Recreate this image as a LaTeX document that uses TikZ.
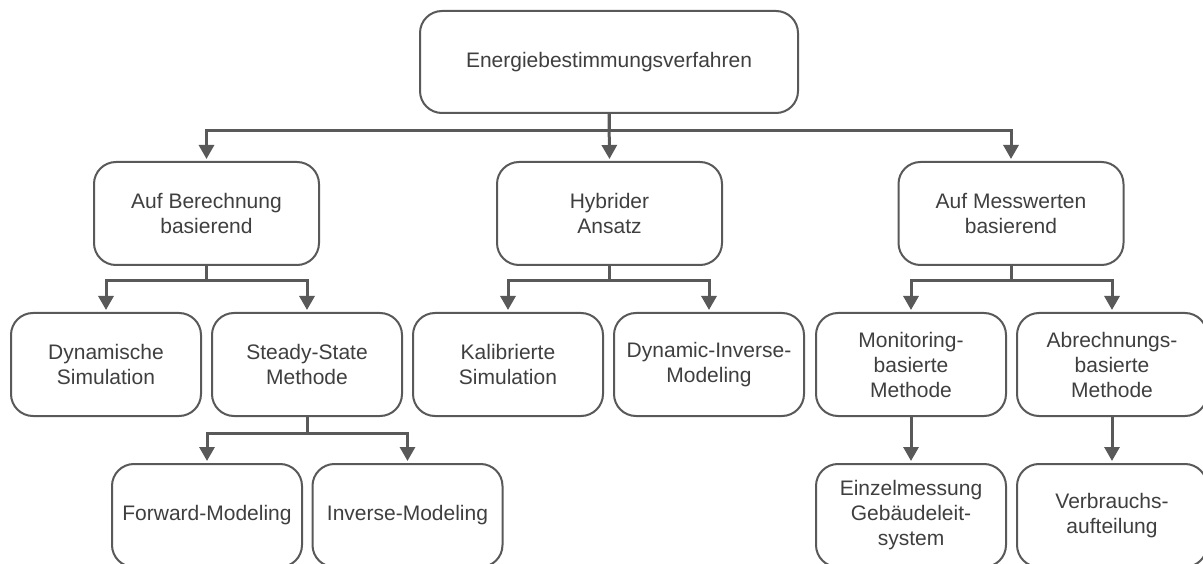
\documentclass[tikz,border=0pt]{standalone}
\usepackage{fontspec}
\setmainfont{Liberation Sans}
\usetikzlibrary{arrows.meta}
\definecolor{linegray}{HTML}{595959}
\definecolor{textgray}{HTML}{3F3F3F}
\begin{document}
\begin{tikzpicture}[x=1pt,y=-1pt,
  box/.style={draw=linegray, line width=2pt, rounded corners=22pt, fill=white,
    text=textgray, align=center, minimum width=190pt, minimum height=103pt,
    inner sep=0pt, font=\fontsize{21}{25}\selectfont},
  wide/.style={minimum width=225pt},
  conn/.style={draw=linegray, line width=3pt,
    -{Triangle[width=15pt,length=14pt]}, shorten >=2pt}]
\useasboundingbox (0,0) rectangle (1203,564);

% root
\node[box, minimum width=378pt, minimum height=102pt] (root) at (609,62) {Energiebestimmungsverfahren};

% second level
\node[box, wide] (calc) at (206.5,213.5) {Auf Berechnung\\basierend};
\node[box, wide] (hyb)  at (609.5,213.5) {Hybrider\\Ansatz};
\node[box, wide] (meas) at (1011,213.5) {Auf Messwerten\\basierend};

% third level
\node[box] (dyn)  at (106,364.5)  {Dynamische\\Simulation};
\node[box] (ss)   at (307,364.5)  {Steady-State\\Methode};
\node[box] (kal)  at (508,364.5)  {Kalibrierte\\Simulation};
\node[box] (dinv) at (709,364.5)  {Dynamic-Inverse-\\Modeling};
\node[box] (mon)  at (911,364.5)  {Monitoring-\\basierte\\Methode};
\node[box] (abr)  at (1112,364.5) {Abrechnungs-\\basierte\\Methode};

% fourth level
\node[box] (fwd)  at (207,515.5)  {Forward-Modeling};
\node[box] (inv)  at (407.5,515.5) {Inverse-Modeling};
\node[box] (ein)  at (911,515.5)  {Einzelmessung\\Gebäudeleit-\\system};
\node[box] (verb) at (1112,515.5) {Verbrauchs-\\aufteilung};

% junction points
\coordinate (j0) at (609,131);
\coordinate (j1) at (206.5,281);
\coordinate (j2) at (609.5,281);
\coordinate (j3) at (1011,281);
\coordinate (j4) at (307,433);

% connectors
\draw[conn] (root.south) -- (j0) -| (calc.north);
\draw[conn] (root.south) -- (hyb.north);
\draw[conn] (j0) -| (meas.north);

\draw[conn] (calc.south) -- (j1) -| (dyn.north);
\draw[conn] (j1) -| (ss.north);

\draw[conn] (hyb.south) -- (j2) -| (kal.north);
\draw[conn] (j2) -| (dinv.north);

\draw[conn] (meas.south) -- (j3) -| (mon.north);
\draw[conn] (j3) -| (abr.north);

\draw[conn] (ss.south) -- (j4) -| (fwd.north);
\draw[conn] (j4) -| (inv.north);

\draw[conn] (mon.south) -- (ein.north);
\draw[conn] (abr.south) -- (verb.north);
\end{tikzpicture}
\end{document}
